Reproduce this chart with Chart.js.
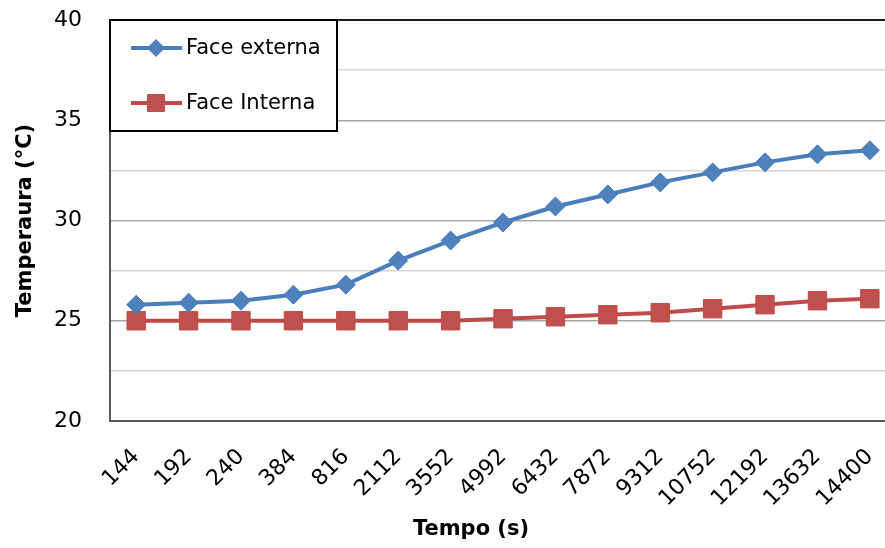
<!DOCTYPE html>
<html>
<head>
<meta charset="utf-8">
<script src="https://cdn.jsdelivr.net/npm/chart.js@4.4.1/dist/chart.umd.min.js"></script>
<style>
  html, body { margin: 0; padding: 0; background: #fff; overflow: hidden; }
  #wrap { width: 912px; height: 548px; }
</style>
</head>
<body>
<div id="wrap"><canvas id="temp-chart" width="912" height="548"></canvas></div>
<script>
const tempos = ['144', '192', '240', '384', '816', '2112', '3552', '4992', '6432', '7872', '9312', '10752', '12192', '13632', '14400'];
const faceExterna = [25.8, 25.9, 26.0, 26.3, 26.8, 28.0, 29.0, 29.9, 30.7, 31.3, 31.9, 32.4, 32.9, 33.3, 33.5];
const faceInterna = [25.0, 25.0, 25.0, 25.0, 25.0, 25.0, 25.0, 25.1, 25.2, 25.3, 25.4, 25.6, 25.8, 26.0, 26.1];
const yTicks = [20, 25, 30, 35, 40];
const tituloX = 'Tempo (s)';
const tituloY = 'Temperaura (°C)';

const FONT = '"DejaVu Sans", sans-serif';

// legend in a white box at the top-left corner of the plot, plus the x title
const boxLegend = {
    id: 'boxLegend',
    afterDraw(chart) {
        const ctx = chart.ctx;
        const area = chart.chartArea;
        ctx.save();
        const x0 = area.left, y0 = area.top;
        ctx.fillStyle = '#fff';
        ctx.fillRect(x0, y0, 227, 111);
        ctx.strokeStyle = '#000';
        ctx.lineWidth = 2;
        ctx.strokeRect(x0, y0, 227, 111);

        chart.data.datasets.forEach((ds, i) => {
            const y = y0 + 28 + i * 55;
            ctx.strokeStyle = ds.borderColor;
            ctx.lineWidth = ds.borderWidth;
            ctx.beginPath();
            ctx.moveTo(x0 + 21, y);
            ctx.lineTo(x0 + 72, y);
            ctx.stroke();
            ctx.fillStyle = ds.pointBackgroundColor;
            ctx.strokeStyle = ds.pointBorderColor;
            ctx.lineWidth = 1;
            Chart.helpers.drawPoint(ctx, {
                pointStyle: ds.pointStyle,
                radius: ds.pointRadius - 1,
                rotation: 0,
                borderWidth: 1
            }, x0 + 46, y);
            ctx.fillStyle = '#000';
            ctx.font = '21px ' + FONT;
            ctx.textAlign = 'left';
            ctx.textBaseline = 'middle';
            ctx.fillText(ds.label, x0 + 76, y + 1);
        });

        ctx.fillStyle = '#000';
        ctx.font = 'bold 21px ' + FONT;
        ctx.textAlign = 'center';
        ctx.textBaseline = 'middle';
        ctx.fillText(tituloX, 471, 530);
        ctx.restore();
    }
};

new Chart(document.getElementById('temp-chart'), {
    type: 'line',
    data: {
        labels: tempos,
        datasets: [
            {
                label: 'Face externa',
                data: faceExterna,
                borderColor: '#4A7EBB',
                borderWidth: 4,
                pointStyle: 'rectRot',
                pointRadius: 9.5,
                pointBackgroundColor: '#4F81BD',
                pointBorderColor: '#4A7EBB',
                pointBorderWidth: 1,
                tension: 0
            },
            {
                label: 'Face Interna',
                data: faceInterna,
                borderColor: '#BE4B48',
                borderWidth: 4,
                pointStyle: 'rect',
                pointRadius: 13,
                pointBackgroundColor: '#C0504D',
                pointBorderColor: '#BE4B48',
                pointBorderWidth: 1,
                tension: 0
            }
        ]
    },
    options: {
        responsive: false,
        animation: false,
        layout: { padding: { top: 20, right: 0, left: 0, bottom: 0 } },
        plugins: {
            legend: { display: false },
            tooltip: { enabled: false }
        },
        scales: {
            x: {
                offset: true,
                grid: { display: false, drawTicks: false },
                border: { color: '#595959', width: 2 },
                ticks: {
                    color: '#000',
                    font: { family: FONT, size: 22 },
                    minRotation: 45,
                    maxRotation: 45,
                    autoSkip: false,
                    padding: 23
                },
                afterFit(scale) { scale.height = 127; }
            },
            y: {
                min: 20,
                max: 40,
                grid: {
                    drawTicks: true,
                    tickLength: 26,
                    tickColor: 'rgba(0,0,0,0)',
                    color(ctx) {
                        const v = ctx.tick.value;
                        if (v === 40) return '#1a1a1a';
                        return yTicks.includes(v) ? '#a6a6a6' : '#d6d6d6';
                    },
                    lineWidth(ctx) {
                        return ctx.tick.value === 40 ? 2 : 1.5;
                    }
                },
                border: { color: '#595959', width: 2 },
                ticks: {
                    stepSize: 2.5,
                    color: '#000',
                    padding: 2,
                    font: { family: FONT, size: 22 },
                    callback: (v) => yTicks.includes(v) ? String(v) : ''
                },
                title: {
                    display: true,
                    text: tituloY,
                    color: '#000',
                    font: { family: FONT, size: 21, weight: 'bold' },
                    padding: { top: 13, bottom: 0 }
                },
                afterFit(scale) { scale.width = 110; }
            }
        }
    },
    plugins: [boxLegend]
});
</script>
</body>
</html>
